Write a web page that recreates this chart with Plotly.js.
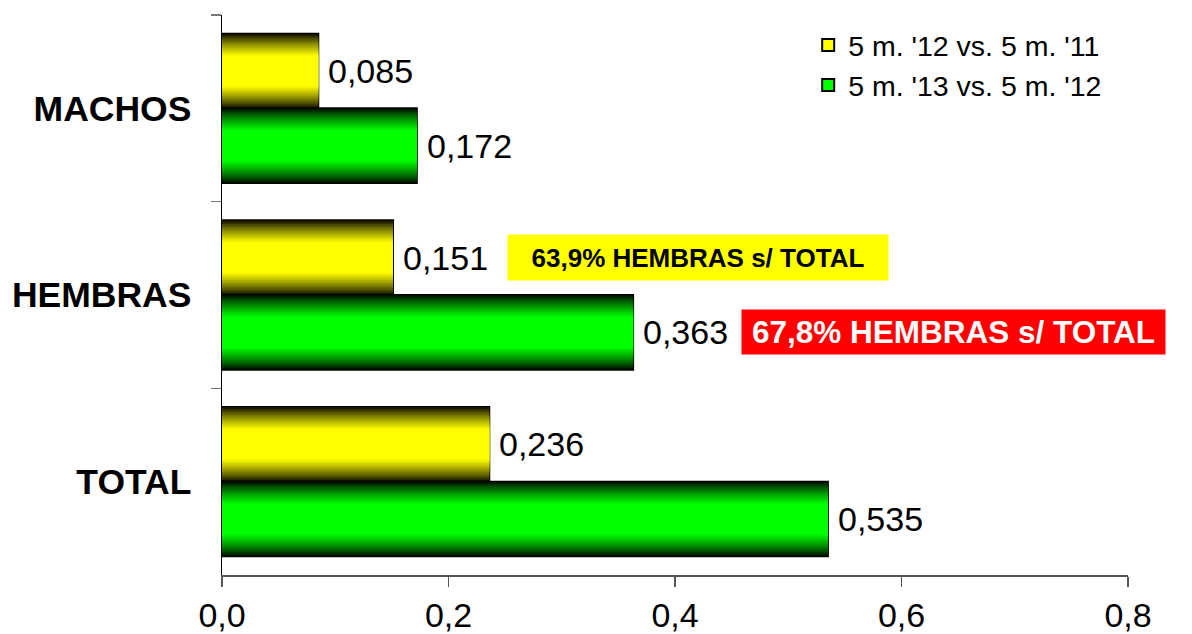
<!DOCTYPE html>
<html>
<head>
<meta charset="utf-8">
<script src="https://cdn.plot.ly/plotly-3.0.1.min.js"></script>
<style>
  html, body { margin: 0; padding: 0; background: #ffffff; }
  #chart { width: 1192px; height: 634px; }
</style>
</head>
<body>
<div id="chart"></div>
<script>
// ---- data ----
const categories = ['MACHOS', 'HEMBRAS', 'TOTAL'];
const series1Name = "5 m. '12 vs. 5 m. '11";
const series1Values = [0.085, 0.151, 0.236];
const series2Name = "5 m. '13 vs. 5 m. '12";
const series2Values = [0.172, 0.363, 0.535];
const xTickValues = [0, 0.2, 0.4, 0.6, 0.8];
const xTickLabels = ['0,0', '0,2', '0,4', '0,6', '0,8'];
const note1Text = '63,9% HEMBRAS s/ TOTAL';
const note2Text = '67,8% HEMBRAS s/ TOTAL';

// ---- styling helpers ----
const FONT = 'Liberation Sans, Arial, sans-serif';
const BAR_W = 0.4;
const seriesDefs = [
  { name: series1Name, values: series1Values, rgb: [255, 255, 0], center: -0.2 },
  { name: series2Name, values: series2Values, rgb: [0, 255, 0], center: 0.2 }
];

function shade(rgb, t) {
  return 'rgb(' + rgb.map(c => Math.round(c * t)).join(',') + ')';
}

const traces = [];
const N = 20, FULL = 12;
seriesDefs.forEach(s => {
  const half = BAR_W / 2;
  // base bar with outline (also legend entry)
  traces.push({
    type: 'bar', orientation: 'h', name: s.name,
    x: s.values, y: categories,
    offset: s.center - half, width: BAR_W,
    marker: { color: shade(s.rgb, 1), line: { color: '#000000', width: 2 } },
    showlegend: true, hoverinfo: 'x'
  });
  // gradient layers
  for (let k = 0; k <= FULL; k++) {
    const d = k / N * half;
    const hh = half - d;
    let t = k === FULL ? 1 : Math.min(1, ((k + 0.5) / N) / (FULL / N));
    t = Math.pow(t, 0.8);
    traces.push({
      type: 'bar', orientation: 'h', name: s.name,
      x: s.values, y: categories,
      offset: s.center - hh, width: 2 * hh,
      marker: { color: shade(s.rgb, t), line: { width: 0 } },
      showlegend: false, hoverinfo: 'skip'
    });
  }
});

// value labels
const annotations = [];
seriesDefs.forEach(s => {
  s.values.forEach((v, i) => {
    annotations.push({
      x: v, y: i + s.center, xref: 'x', yref: 'y',
      text: v.toFixed(3).replace('.', ','),
      showarrow: false, xanchor: 'left', yanchor: 'middle', xshift: 8,
      font: { family: FONT, size: 34, color: '#000000' }
    });
  });
});
// highlighted notes
annotations.push({
  x: 0.42, y: 1 - 0.2, xref: 'x', yref: 'y',
  text: '<b>' + note1Text + '</b>', showarrow: false,
  xanchor: 'center', yanchor: 'middle',
  bgcolor: '#FFFF00', width: 380, height: 45, borderpad: 0,
  font: { family: FONT, size: 26, color: '#000000' }
});
annotations.push({
  x: 0.646, y: 1 + 0.2, xref: 'x', yref: 'y',
  text: '<b>' + note2Text + '</b>', showarrow: false,
  xanchor: 'center', yanchor: 'middle',
  bgcolor: '#FF0000', width: 423, height: 44, borderpad: 0,
  font: { family: FONT, size: 31.5, color: '#FFFFFF' }
});

const layout = {
  width: 1192, height: 634,
  margin: { l: 221.5, r: 64, t: 15, b: 59, autoexpand: false },
  paper_bgcolor: '#ffffff', plot_bgcolor: '#ffffff',
  barmode: 'overlay',
  showlegend: true,
  font: { family: FONT, color: '#000000' },
  legend: {
    xref: 'paper', yref: 'paper',
    x: 0.647, y: 0.991, xanchor: 'left', yanchor: 'top',
    traceorder: 'normal', bgcolor: 'rgba(0,0,0,0)',
    font: { family: FONT, size: 28.5, color: '#000000' },
    itemwidth: 30, tracegroupgap: 0
  },
  xaxis: {
    range: [0, 0.8], tickmode: 'array', tickvals: xTickValues, ticktext: xTickLabels,
    showgrid: false, zeroline: false, automargin: false,
    showline: true, linecolor: '#555555', linewidth: 1.5,
    ticks: 'outside', ticklen: 10, tickwidth: 1.5, tickcolor: '#555555',
    tickfont: { family: FONT, size: 34, color: '#000000' }
  },
  yaxis: {
    type: 'category', categoryorder: 'array', categoryarray: categories,
    range: [2.5, -0.5], tickson: 'boundaries',
    showgrid: false, zeroline: false, automargin: false,
    showline: true, linecolor: '#000000', linewidth: 1.5,
    ticks: 'outside', ticklen: 10, tickwidth: 1.5, tickcolor: '#777777',
    ticklabelstandoff: 22,
    tickfont: { family: FONT, size: 35.5, color: '#000000', weight: 'bold' }
  },
  annotations: annotations
};

Plotly.newPlot('chart', traces, layout, { displayModeBar: false, staticPlot: true });
</script>
</body>
</html>
